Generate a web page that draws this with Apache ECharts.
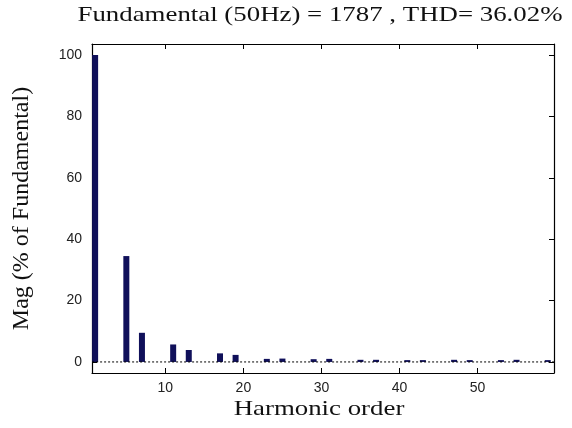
<!DOCTYPE html>
<html>
<head>
<meta charset="utf-8">
<style>
  html, body { margin: 0; padding: 0; background: #ffffff; }
  #chart { width: 572px; height: 428px; }
</style>
<script src="https://cdn.jsdelivr.net/npm/echarts@6/dist/echarts.min.js"></script>
</head>
<body>
<div id="chart"></div>
<script>
// Harmonic spectrum of the current (FFT analysis)
const harmonicOrders = [1, 5, 7, 11, 13, 17, 19, 23, 25, 29, 31, 35, 37, 41, 43, 47, 49, 53, 55, 59];
const magnitudes = [100, 34.5, 9.5, 5.7, 3.9, 2.8, 2.3, 1.0, 1.1, 0.9, 1.0, 0.7, 0.7, 0.6, 0.6, 0.7, 0.6, 0.6, 0.7, 0.6];
const xTicks = [10, 20, 30, 40, 50];
const yTicks = [0, 20, 40, 60, 80, 100];
const baselineSpan = [0.1, 61.4];
const titleText = 'Fundamental (50Hz) = 1787 , THD= 36.02%';
const xName = 'Harmonic order';
const yName = 'Mag (% of Fundamental)';

const chart = echarts.init(document.getElementById('chart'), null, { renderer: 'canvas' });

const serif = '"Liberation Serif", "DejaVu Serif", serif';
const sans = '"Liberation Sans", Arial, sans-serif';

const barData = harmonicOrders.map((h, i) => [h, magnitudes[i]]);

const xBase = {
  type: 'value',
  min: 0.6,
  max: 59.8,
  axisLine: { show: true, onZero: false, lineStyle: { color: '#000', width: 1.2 } },
  axisTick: { show: true, inside: true, length: 5, customValues: xTicks, lineStyle: { color: '#000' } },
  splitLine: { show: false }
};
const yBase = {
  type: 'value',
  min: -3.6,
  max: 103.6,
  axisLine: { show: true, onZero: false, lineStyle: { color: '#000', width: 1.2 } },
  axisTick: { show: true, inside: true, length: 5, customValues: yTicks, lineStyle: { color: '#000' } },
  splitLine: { show: false }
};

// Horizontal text in this figure is set slightly wide
const wideText = (text, x, y) => ({
  type: 'text',
  x: x,
  y: y,
  scaleX: 1.22,
  silent: true,
  style: {
    text: text,
    fontFamily: serif,
    fontSize: 22,
    fill: '#111',
    align: 'center',
    verticalAlign: 'middle'
  }
});

chart.setOption({
  animation: false,
  backgroundColor: '#ffffff',
  graphic: [
    wideText(titleText, 320, 15),
    wideText(xName, 319, 409)
  ],
  grid: { left: 92, right: 18, top: 44, bottom: 55 },
  xAxis: [
    Object.assign({}, xBase, {
      position: 'bottom',
      axisLabel: { show: true, customValues: xTicks, margin: 8, fontFamily: sans, fontSize: 14, color: '#222' }
    }),
    Object.assign({}, xBase, { position: 'top', axisLabel: { show: false } })
  ],
  yAxis: [
    Object.assign({}, yBase, {
      position: 'left',
      name: yName,
      nameLocation: 'middle',
      nameGap: 58,
      nameTextStyle: { fontFamily: serif, fontSize: 24, color: '#111' },
      axisLabel: { show: true, customValues: yTicks, margin: 10, fontFamily: sans, fontSize: 14, color: '#222' }
    }),
    Object.assign({}, yBase, { position: 'right', axisLabel: { show: false } })
  ],
  series: [
    {
      type: 'bar',
      xAxisIndex: 0,
      yAxisIndex: 0,
      data: barData,
      barWidth: 6,
      itemStyle: { color: '#10105a' },
      clip: true
    },
    {
      type: 'line',
      xAxisIndex: 0,
      yAxisIndex: 0,
      data: baselineSpan.map(x => [x, 0]),
      symbol: 'none',
      clip: false,
      silent: true,
      lineStyle: { color: '#000', width: 1, type: [2, 2] },
      z: 3
    }
  ]
});
</script>
</body>
</html>
